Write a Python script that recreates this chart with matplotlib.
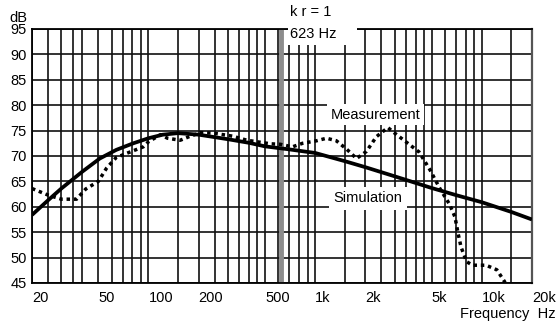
import matplotlib
matplotlib.use("Agg")
import matplotlib.pyplot as plt
from matplotlib.patches import Rectangle
from matplotlib.ticker import NullFormatter

plt.rcParams['font.family'] = ['Liberation Sans', 'DejaVu Sans']

# simulated response (solid)
sim_f = [20, 25, 30, 40, 51, 64, 81, 100, 122, 150, 200, 300, 400, 500, 700,
         1000, 1500, 2000, 3000, 5000, 7000, 10000, 15000, 20000]
sim_db = [58.4, 61.3, 63.6, 66.9, 69.5, 71.2, 72.5, 73.5, 74.2, 74.5, 74.2, 73.3,
          72.6, 71.9, 71.3, 70.6, 69.0, 67.8, 66.0, 63.7, 62.3, 60.9, 59.0, 57.5]

# measured response (dotted)
meas_f = [20, 25, 30, 37, 42, 50, 56, 64, 75, 93, 100, 118, 130, 155, 175, 205,
          245, 320, 390, 540, 620, 730, 840, 1020, 1170, 1340, 1550, 1770, 2030,
          2330, 2730, 3000, 3500, 4200, 4900, 5600, 6400, 6900, 7200, 7500, 8100,
          8800, 10600, 12300, 13800]
meas_db = [63.6, 62.3, 61.5, 61.5, 63.5, 65.0, 67.6, 69.7, 70.6, 71.8, 72.8, 74.2,
           73.5, 73.1, 73.8, 74.6, 74.5, 73.9, 73.1, 72.4, 72.3, 71.8, 72.5, 73.0,
           73.5, 73.0, 71.3, 69.5, 70.9, 73.8, 75.6, 74.5, 72.8, 70.8, 67.2, 63.6,
           60.5, 58.0, 54.8, 52.1, 49.2, 48.5, 48.5, 47.6, 45.1]

x_ticks = [20, 50, 100, 200, 500, 1000, 2000, 5000, 10000, 20000]
x_labels = ['20', '50', '100', '200', '500', '1k', '2k', '5k', '10k', '20k']
x_grid = [25, 30, 35, 40, 60, 70, 80, 90, 150, 250, 300, 350, 400, 450,
          600, 700, 800, 900, 1500, 2500, 3000, 3500, 4000, 4500,
          6000, 7000, 8000, 9000, 15000]
y_ticks = list(range(45, 100, 5))
kr_freq = 623

fig = plt.figure(figsize=(5.58, 3.23), dpi=100)
ax = fig.add_axes([32 / 558, 1 - 283 / 323, 500 / 558, 254 / 323])
ax.set_xscale('log')
ax.set_xlim(20, 20000)
ax.set_ylim(45, 95)

ax.set_xticks(x_ticks)
ax.set_xticklabels(x_labels, ha='left')
ax.set_xticks(x_grid, minor=True)
ax.xaxis.set_minor_formatter(NullFormatter())
ax.set_yticks(y_ticks)
ax.tick_params(axis='both', which='both', length=0, labelsize=10.5)
ax.tick_params(axis='x', pad=6)
ax.tick_params(axis='y', pad=4)
ax.grid(True, which='both', color='#111111', linewidth=1.2)
ax.set_axisbelow(True)
for s in ['left', 'bottom', 'top']:
    ax.spines[s].set_color('black')
    ax.spines[s].set_linewidth(1.3)
ax.spines['right'].set_color('#555555')
ax.spines['right'].set_linewidth(1.6)

ax.axvline(kr_freq, color='#8c8c8c', linewidth=3.5, zorder=2.5)

ax.plot(sim_f, sim_db, color='black', linewidth=2.7, solid_capstyle='butt',
        solid_joinstyle='round', zorder=4)
ax.plot(meas_f, meas_db, color='black', linewidth=2.5, linestyle=(0, (1, 1.1)), zorder=4)

ax.text(2316, 78.1, 'Measurement', ha='center', va='center', fontsize=10.5, zorder=5,
        bbox=dict(facecolor='white', edgecolor='none', boxstyle='square,pad=0.25'))
ax.text(2073, 61.7, 'Simulation', ha='center', va='center', fontsize=10.5, zorder=5,
        bbox=dict(facecolor='white', edgecolor='none', boxstyle='square,pad=0.3'))

ax.add_patch(Rectangle((0.512, 0.937), 0.138, 0.08, transform=ax.transAxes,
                       facecolor='white', edgecolor='none', clip_on=False, zorder=6))
ax.text(0.515, 1.065, 'k r = 1', transform=ax.transAxes, ha='left', va='center',
        fontsize=10.5, zorder=7)
ax.text(0.515, 0.98, '623 Hz', transform=ax.transAxes, ha='left', va='center',
        fontsize=10.5, zorder=7)

fig.text(27 / 558, 1 - 18 / 323, 'dB', ha='right', va='center', fontsize=10.5)
fig.text(556 / 558, 1 - 314 / 323, 'Frequency  Hz', ha='right', va='center', fontsize=10.5)

fig.savefig('out.png', dpi=100)
